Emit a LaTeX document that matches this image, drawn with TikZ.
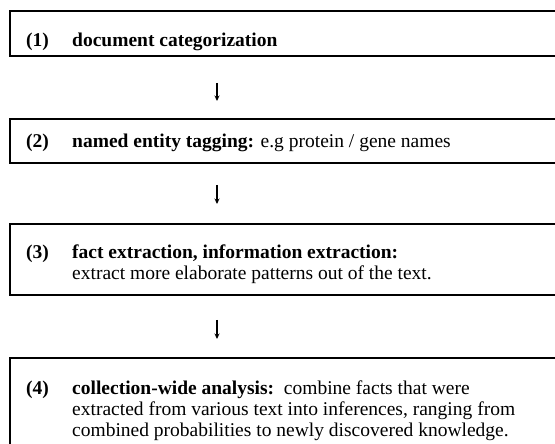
\documentclass[tikz,border=0pt]{standalone}
\usepackage{fontspec}
\setmainfont{Liberation Serif}
\usetikzlibrary{arrows.meta}
\begin{document}
\begin{tikzpicture}[x=1pt,y=1pt,
  box/.style={draw=black, line width=1.8pt, rectangle, inner sep=0pt, anchor=north west, minimum width=560pt},
  txt/.style={anchor=base west, inner sep=0pt, font=\fontsize{19.5}{21}\selectfont},
  arr/.style={-{Stealth[length=5.5pt,width=5pt]}, line width=1.1pt}]
\useasboundingbox (0,0) rectangle (555,444);
\clip (0,0) rectangle (555,444);
% boxes
\node[box, minimum height=45pt] (b1) at (9,434) {};
\node[box, minimum height=44pt] (b2) at (9,326) {};
\node[box, minimum height=71pt] (b3) at (9,221) {};
\node[box, minimum height=110pt] (b4) at (9,87) {};
% texts
\node[txt] (n1) at (26,397) {\textbf{(1)}};
\node[txt] (t1) at (72,397) {\textbf{document categorization}};
\node[txt] (n2) at (26,296) {\textbf{(2)}};
\node[txt] (t2) at (72,296) {\textbf{named entity tagging:} e.g protein / gene names};
\node[txt] (n3) at (26,185) {\textbf{(3)}};
\node[txt] (t3a) at (72,185) {\textbf{fact extraction, information extraction:}};
\node[txt] (t3b) at (72,164) {extract more elaborate patterns out of the text.};
\node[txt] (n4) at (26,49) {\textbf{(4)}};
\node[txt] (t4a) at (72,49) {\textbf{collection-wide analysis:}\ \ combine facts that were};
\node[txt] (t4b) at (72,28) {extracted from various text into inferences, ranging from};
\node[txt] (t4c) at (72,7) {combined probabilities to newly discovered knowledge.};
% arrows
\coordinate (a1s) at (217,361); \coordinate (a1e) at (217,343);
\coordinate (a2s) at (217,259); \coordinate (a2e) at (217,240);
\coordinate (a3s) at (217,124); \coordinate (a3e) at (217,105);
\draw[arr] (a1s) -- (a1e);
\draw[arr] (a2s) -- (a2e);
\draw[arr] (a3s) -- (a3e);
\end{tikzpicture}
\end{document}
